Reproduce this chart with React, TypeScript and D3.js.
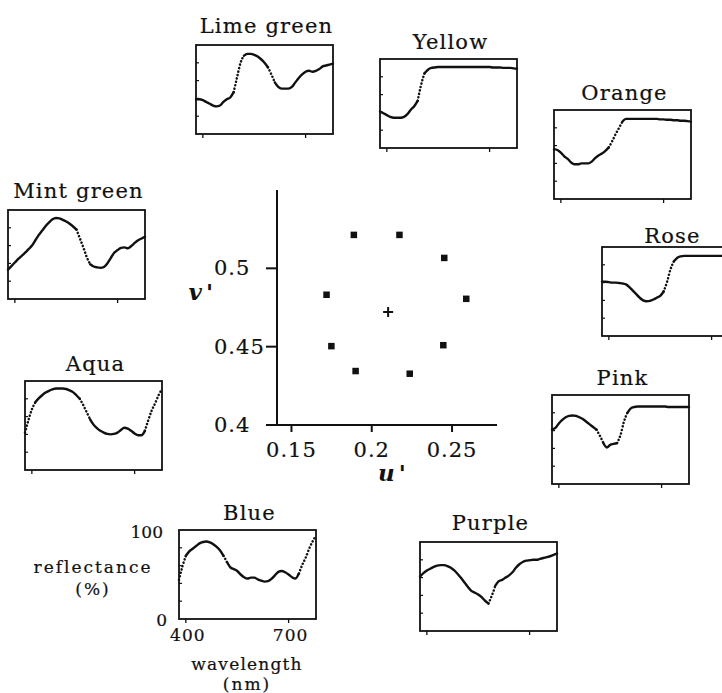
import * as d3 from "d3";
import { useEffect, useRef } from "react";

// sampling grid of the reflectance spectra (nm)
const wavelengths = [
  380, 390, 400, 410, 420, 430, 440, 450, 460, 470, 480, 490, 500, 510, 520, 530, 540, 550, 560, 570, 580,
  590, 600, 610, 620, 630, 640, 650, 660, 670, 680, 690, 700, 710, 720, 730, 740, 750, 760, 770, 780,
];

// reflectance (%)
const limeGreen = [39, 39, 38, 36, 34, 32, 31, 32, 36, 39, 41, 47, 64, 80, 88, 90, 90, 89, 87, 84, 80, 75, 67, 58, 53, 51, 51, 51, 53, 58, 63, 67, 70, 71, 70, 71, 73, 76, 77, 78, 79];
const yellow = [41, 39, 37, 35, 34, 34, 34, 35, 38, 43, 47, 53, 71, 84, 88, 90, 90.5, 91, 91, 91, 91, 91, 91, 91, 91, 91, 91, 91, 91, 91, 91, 91, 91, 90.5, 90.5, 90.5, 90, 90, 90, 89.5, 89];
const orange = [56, 55, 52, 48, 45, 41, 39, 39, 40, 40, 40, 42, 46, 49, 51, 54, 58, 65, 73, 80, 87, 90, 90, 90, 90, 90, 90, 90, 90, 90, 90, 89.5, 89.5, 89, 89, 88.5, 88.5, 88, 88, 87.5, 87];
const rose = [61, 61, 60.5, 60, 60, 59.5, 59, 58, 55, 51, 47, 43, 40, 39, 39.5, 41, 43, 45, 50, 61, 75, 84, 88, 89.5, 90, 90, 90, 90, 90, 90, 90, 90, 90, 90, 90, 90, 90, 90, 90, 90, 90];
const pink = [61, 63, 68, 72, 75, 76.5, 77, 76.5, 75, 73, 70, 67, 64, 61, 54, 46, 41, 44, 45, 46, 55, 70, 80, 85, 86.5, 87, 87, 87, 87, 87, 87, 87, 87, 87, 86.5, 86.5, 86.5, 86.5, 86.5, 86.5, 86.5];
const purple = [61, 65, 68, 70, 72, 73.5, 74, 74, 73, 71, 68, 64, 59.5, 54.5, 49.5, 45, 43, 41, 38, 34, 31, 40, 51, 56, 57.5, 60, 62.5, 66, 71, 75, 77.5, 79, 79.5, 80, 80, 81, 82, 83, 84, 85.5, 87];
const blue = [44, 59, 71, 76, 79, 82, 85, 86.5, 87, 86, 84, 81, 77, 71, 64, 58, 56, 54, 50, 47, 45.5, 46.5, 46.5, 44.5, 43, 42, 42.5, 45, 49, 53, 54, 52.5, 50, 47, 45.5, 51, 61, 69, 79, 87, 94];
const aqua = [42, 56, 68, 76, 80.5, 84, 87, 89, 90.5, 91.5, 91.5, 91.5, 91, 89.5, 87.5, 84, 80, 73, 65, 57, 51, 47, 44, 42, 40.5, 40, 40.5, 42, 45, 47.5, 46.5, 44, 41, 39, 39, 44, 56, 67, 75, 84, 91];
const mintGreen = [33, 37, 41, 45, 48.5, 52, 56, 60, 66, 72, 77, 82, 86, 89.5, 91, 90.5, 89, 87, 84.5, 81.5, 78, 68, 58, 47, 39, 36.5, 35.5, 35, 36, 40, 46, 52, 55, 57.5, 58, 57, 59.5, 63, 66, 68, 70];

const colorNames = ["Lime green", "Yellow", "Orange", "Rose", "Pink", "Purple", "Blue", "Aqua", "Mint green"];
const spectra = [limeGreen, yellow, orange, rose, pink, purple, blue, aqua, mintGreen];

// chromaticity of each sample, same order as colorNames
const uPrime = [0.1887, 0.2171, 0.245, 0.2587, 0.2444, 0.2235, 0.1898, 0.1747, 0.1717];
const vPrime = [0.5215, 0.5215, 0.5068, 0.4807, 0.4511, 0.4329, 0.4346, 0.4505, 0.4833];
const whitePoint = [0.2102, 0.4722];

const uTicks = [0.15, 0.2, 0.25];
const vTicks = [0.4, 0.45, 0.5];
const nmTicks = [400, 700];
const pctTicks = [20, 40, 60, 80];

// box top-left of each panel and gap down from title baseline
const panelPos = [
  [196, 45, 12],
  [380, 59, 10],
  [554, 110, 10],
  [602, 247, 4],
  [552, 395, 10],
  [420, 542, 12],
  [179, 530, 10],
  [25, 381, 10],
  [8, 210, 12],
];

const serif = "'DejaVu Serif', serif";
const ink = "#111";

export default function App() {
  const ref = useRef<SVGSVGElement>(null);

  useEffect(() => {
    if (!ref.current) return;
    const svg = d3.select(ref.current);
    svg.selectAll("*").remove();

    svg.append("rect").attr("width", 722).attr("height", 693).attr("fill", "#fff");

    // the printed type is a touch heavier than DejaVu Book
    const txt = (sel: d3.Selection<any, any, any, any>, size: number, ls = 0) =>
      sel
        .attr("font-family", serif)
        .attr("font-size", size)
        .attr("letter-spacing", ls)
        .attr("fill", ink)
        .attr("stroke", ink)
        .attr("stroke-width", 0.2);

    // ---- central u'v' plot
    const x = d3.scaleLinear().domain([0.141, 0.278]).range([277, 497]);
    const y = d3.scaleLinear().domain([0.4, 0.55]).range([425, 190]);

    const axes = svg.append("g").attr("stroke", ink).attr("stroke-width", 2).attr("fill", "none");
    axes.append("line").attr("x1", x(0.141)).attr("x2", x(0.141)).attr("y1", y(0.55)).attr("y2", y(0.4) + 1);
    axes.append("line").attr("x1", x(0.141) - 1).attr("x2", x(0.278)).attr("y1", y(0.4)).attr("y2", y(0.4));
    vTicks.forEach(t => {
      axes.append("line").attr("x1", x(0.141) - 11).attr("x2", x(0.141)).attr("y1", y(t)).attr("y2", y(t));
    });
    uTicks.forEach(t => {
      axes.append("line").attr("x1", x(t)).attr("x2", x(t)).attr("y1", y(0.4)).attr("y2", y(0.4) + 7);
    });

    txt(
      svg
        .append("g")
        .selectAll("text")
        .data(vTicks)
        .join("text")
        .attr("x", 214)
        .attr("y", d => y(d) + 7)
        .text(d => String(d)),
      21,
      1
    );

    txt(
      svg
        .append("g")
        .selectAll("text")
        .data(uTicks)
        .join("text")
        .attr("x", d => x(d))
        .attr("y", 457)
        .attr("text-anchor", "middle")
        .text(d => String(d)),
      21,
      1
    );

    svg
      .append("text")
      .attr("x", 217)
      .attr("y", 300)
      .attr("text-anchor", "end")
      .attr("font-family", serif)
      .attr("font-size", 23)
      .attr("font-weight", 700)
      .attr("font-style", "italic")
      .attr("letter-spacing", 4)
      .attr("fill", ink)
      .text("v'");

    svg
      .append("text")
      .attr("x", 394)
      .attr("y", 481)
      .attr("text-anchor", "middle")
      .attr("font-family", serif)
      .attr("font-size", 23)
      .attr("font-weight", 700)
      .attr("font-style", "italic")
      .attr("letter-spacing", 4)
      .attr("fill", ink)
      .text("u'");

    svg
      .append("g")
      .selectAll("rect")
      .data(uPrime)
      .join("rect")
      .attr("x", d => x(d) - 3)
      .attr("y", (d, i) => y(vPrime[i]) - 3)
      .attr("width", 6.5)
      .attr("height", 6.5)
      .attr("fill", ink);

    const wx = x(whitePoint[0]);
    const wy = y(whitePoint[1]);
    svg
      .append("path")
      .attr("d", `M${wx - 5},${wy}H${wx + 5}M${wx},${wy - 5}V${wy + 5}`)
      .attr("stroke", ink)
      .attr("stroke-width", 2);

    // ---- reflectance panels
    const pw = 137;
    const ph = 89;
    const px = d3.scaleLinear().domain([380, 780]).range([0, pw]);
    const py = d3.scaleLinear().domain([0, 100]).range([ph, 0]);
    const line = d3
      .line<[number, number]>()
      .x(d => px(d[0]))
      .y(d => py(d[1]))
      .curve(d3.curveMonotoneX);

    spectra.forEach((vals, i) => {
      const [bx, by, gap] = panelPos[i];
      const g = svg.append("g").attr("transform", `translate(${bx},${by})`);

      g.append("rect")
        .attr("width", pw)
        .attr("height", ph)
        .attr("fill", "none")
        .attr("stroke", ink)
        .attr("stroke-width", 1.8);

      pctTicks.forEach(t => {
        g.append("line").attr("x1", 0).attr("x2", 3).attr("y1", py(t)).attr("y2", py(t)).attr("stroke", ink).attr("stroke-width", 1.2);
      });
      nmTicks.forEach(t => {
        g.append("line").attr("x1", px(t)).attr("x2", px(t)).attr("y1", ph).attr("y2", ph + 4).attr("stroke", ink).attr("stroke-width", 1.3);
      });

      txt(
        g
          .append("text")
          .attr("x", pw / 2 + 2)
          .attr("y", -gap)
          .attr("text-anchor", "middle")
          .text(colorNames[i]),
        21,
        1.2
      );

      // steep stretches came out of the recorder as separate dots
      const pts = wavelengths.map((w, k) => [w, vals[k]] as [number, number]);
      const steep = (k: number) => Math.abs(vals[k] - vals[k - 1]) > 6.5;
      let start = 0;
      for (let k = 1; k < pts.length; k++) {
        if (k === pts.length - 1 || steep(k) !== steep(k + 1)) {
          const dotted = steep(k);
          g.append("path")
            .attr("d", line(pts.slice(start, k + 1)))
            .attr("fill", "none")
            .attr("stroke", ink)
            .attr("stroke-width", dotted ? 2.5 : 2.4)
            .attr("stroke-linecap", "round")
            .attr("stroke-linejoin", "round")
            .attr("stroke-dasharray", dotted ? "0.1 3.4" : null);
          start = k;
        }
      }
    });

    // ---- key on the Blue panel
    const [kx, ky] = panelPos[6];
    const key = svg.append("g");
    txt(key.append("text").attr("x", kx - 16).attr("y", ky + py(100) + 8).attr("text-anchor", "end").text("100"), 17);
    txt(key.append("text").attr("x", kx - 12).attr("y", ky + py(0) + 7).attr("text-anchor", "end").text("0"), 17);
    txt(key.append("text").attr("x", 93).attr("y", 573).attr("text-anchor", "middle").text("reflectance"), 17, 2);
    txt(key.append("text").attr("x", 93).attr("y", 595).attr("text-anchor", "middle").text("(%)"), 17, 2);
    nmTicks.forEach(t => {
      txt(key.append("text").attr("x", kx + px(t) + 2).attr("y", 641).attr("text-anchor", "middle").text(String(t)), 17, 1);
    });
    txt(key.append("text").attr("x", 247).attr("y", 670).attr("text-anchor", "middle").text("wavelength"), 17, 1.2);
    txt(key.append("text").attr("x", 247).attr("y", 690).attr("text-anchor", "middle").text("(nm)"), 17, 2);
  }, []);

  return (
    <svg
      ref={ref}
      width={722}
      height={693}
      style={{ position: "absolute", left: 0, top: 0, display: "block", overflow: "hidden" }}
    />
  );
}
